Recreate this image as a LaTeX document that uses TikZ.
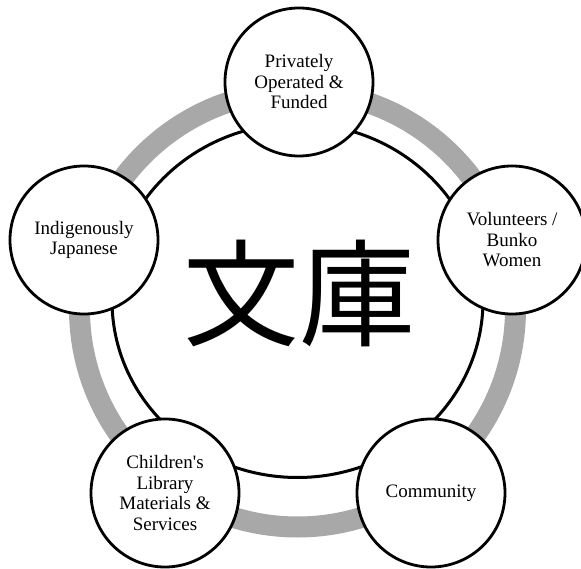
\documentclass[tikz,border=0pt]{standalone}
\usepackage{fontspec}
\setmainfont{Liberation Serif}
\newfontfamily\cjkfont{Noto Sans CJK JP}
\definecolor{ringgray}{RGB}{168,168,168}
\begin{document}
\begin{tikzpicture}[x=1pt, y=-1pt,
	pillar/.style={circle, draw, fill=white, line width=2.8pt, minimum size=148pt, inner sep=0pt, align=center, font=\fontsize{19}{20.5}\selectfont}]
		\useasboundingbox (0, 0) rectangle (581, 569);
		\draw[ringgray, line width=21pt] (297.5, 309) circle [radius=218];
		\draw[line width=3pt] (297.5, 300.5) ellipse [x radius=185.5, y radius=177];
		\node (bunko) at (299, 293) {\cjkfont\fontsize{116}{116}\selectfont 文庫};
		\node[pillar] (privately) at (299, 82) {Privately\\Operated \&\\Funded};
		\node[pillar] (volunteers) at (512, 240) {Volunteers /\\Bunko\\Women};
		\node[pillar] (community) at (431, 493) {Community};
		\node[pillar] (childrens) at (165, 493) {Children\textquotesingle s\\Library\\Materials \&\\Services};
		\node[pillar] (indigenous) at (84, 240) {Indigenously\\Japanese};
	\end{tikzpicture}
\end{document}
